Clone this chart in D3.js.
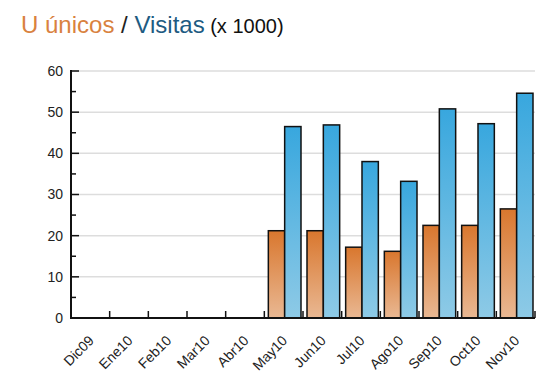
<!DOCTYPE html>
<html lang="es">
  <head>
    <meta charset="utf-8" />
    <title>U únicos / Visitas</title>
    <style>
      body {
        margin: 0;
        background: #fff;
        font-family: "Liberation Sans", Arial, sans-serif;
      }
      svg {
        display: block;
      }
      .grid line {
        stroke: #dddddd;
        stroke-width: 1.5px;
      }
      .tick-label {
        font-size: 14px;
        fill: #222;
      }
    </style>
  </head>
  <body>
    <svg width="556" height="387"></svg>

    <script src="https://d3js.org/d3.v7.min.js"></script>
    <script>
      // months shown on the x axis
      const months = [
        "Dic09", "Ene10", "Feb10", "Mar10", "Abr10", "May10",
        "Jun10", "Jul10", "Ago10", "Sep10", "Oct10", "Nov10"
      ];
      // unique users (x 1000), no data before May10
      const unicos = [null, null, null, null, null, 21.2, 21.2, 17.2, 16.2, 22.5, 22.5, 26.5];
      // visits (x 1000)
      const visitas = [null, null, null, null, null, 46.5, 46.9, 38.0, 33.2, 50.8, 47.2, 54.6];
      const yTicks = [0, 10, 20, 30, 40, 50, 60];
      const yMinorTicks = [5, 15, 25, 35, 45, 55];

      const margin = { top: 71, right: 21, bottom: 69, left: 71 };
      const width = 556;
      const height = 387;

      const svg = d3.select("svg");

      // title
      const title = svg.append("text").attr("x", 21).attr("y", 33);
      title.append("tspan").attr("fill", "#d9823f").style("font-size", "24px").text("U únicos");
      title.append("tspan").attr("fill", "#222").style("font-size", "24px").text(" / ");
      title.append("tspan").attr("fill", "#1e5b82").style("font-size", "24px").text("Visitas");
      title.append("tspan").attr("fill", "#111").style("font-size", "20px").text(" (x 1000)");

      const x = d3
        .scaleBand()
        .domain(months)
        .range([margin.left, width - margin.right])
        .padding(0);

      const bw = x.bandwidth();
      const xInner = d3
        .scaleBand()
        .domain(["unicos", "visitas"])
        .range([4, bw - 2])
        .padding(0);

      const y = d3
        .scaleLinear()
        .domain([0, 60])
        .range([height - margin.bottom, margin.top]);

      // gradients
      const defs = svg.append("defs");
      const gradOrange = defs
        .append("linearGradient")
        .attr("id", "gOrange")
        .attr("x1", 0).attr("y1", 0).attr("x2", 0).attr("y2", 1);
      gradOrange.append("stop").attr("offset", "0%").attr("stop-color", "#d9772e");
      gradOrange.append("stop").attr("offset", "100%").attr("stop-color", "#e9b893");

      const gradBlue = defs
        .append("linearGradient")
        .attr("id", "gBlue")
        .attr("x1", 0).attr("y1", 0).attr("x2", 0).attr("y2", 1);
      gradBlue.append("stop").attr("offset", "0%").attr("stop-color", "#38a7de");
      gradBlue.append("stop").attr("offset", "100%").attr("stop-color", "#8ecae6");

      // grid lines
      svg
        .append("g")
        .attr("class", "grid")
        .selectAll("line")
        .data(yTicks.filter((d) => d > 0))
        .join("line")
        .attr("x1", margin.left)
        .attr("x2", width - margin.right)
        .attr("y1", (d) => y(d))
        .attr("y2", (d) => y(d));

      // bars
      const rows = months.map((m, i) => ({ month: m, unicos: unicos[i], visitas: visitas[i] }));
      const groups = svg
        .append("g")
        .selectAll("g")
        .data(rows)
        .join("g")
        .attr("transform", (d) => `translate(${x(d.month)},0)`);

      groups
        .selectAll("rect")
        .data((d) =>
          ["unicos", "visitas"]
            .filter((k) => d[k] != null)
            .map((k) => ({ key: k, value: d[k] }))
        )
        .join("rect")
        .attr("x", (d) => xInner(d.key))
        .attr("width", xInner.bandwidth())
        .attr("y", (d) => y(d.value))
        .attr("height", (d) => y(0) - y(d.value))
        .attr("fill", (d) => (d.key === "unicos" ? "url(#gOrange)" : "url(#gBlue)"))
        .attr("stroke", "#111")
        .attr("stroke-width", 1.5);

      // y axis
      const yAxis = svg.append("g");
      yAxis
        .append("line")
        .attr("x1", margin.left)
        .attr("x2", margin.left)
        .attr("y1", y(60) - 1)
        .attr("y2", y(0))
        .attr("stroke", "#111")
        .attr("stroke-width", 2);
      yAxis
        .selectAll(".major")
        .data(yTicks)
        .join("line")
        .attr("x1", margin.left)
        .attr("x2", margin.left + 8)
        .attr("y1", (d) => y(d))
        .attr("y2", (d) => y(d))
        .attr("stroke", "#111")
        .attr("stroke-width", 1.5);
      yAxis
        .selectAll(".minor")
        .data(yMinorTicks)
        .join("line")
        .attr("x1", margin.left)
        .attr("x2", margin.left + 5)
        .attr("y1", (d) => y(d))
        .attr("y2", (d) => y(d))
        .attr("stroke", "#111")
        .attr("stroke-width", 1.5);
      yAxis
        .selectAll("text")
        .data(yTicks)
        .join("text")
        .attr("class", "tick-label")
        .attr("x", margin.left - 8)
        .attr("y", (d) => y(d))
        .attr("dy", "0.35em")
        .attr("text-anchor", "end")
        .text((d) => d);

      // x axis
      const xAxis = svg.append("g");
      xAxis
        .append("line")
        .attr("x1", margin.left - 1)
        .attr("x2", width - margin.right)
        .attr("y1", y(0))
        .attr("y2", y(0))
        .attr("stroke", "#111")
        .attr("stroke-width", 2);
      xAxis
        .selectAll(".xtick")
        .data(months.slice(1).concat(["end"]))
        .join("line")
        .attr("x1", (d, i) => x(months[0]) + (i + 1) * bw)
        .attr("x2", (d, i) => x(months[0]) + (i + 1) * bw)
        .attr("y1", y(0))
        .attr("y2", y(0) - 7)
        .attr("stroke", "#111")
        .attr("stroke-width", 1.5);
      xAxis
        .selectAll("text")
        .data(months)
        .join("text")
        .attr("class", "tick-label")
        .attr("text-anchor", "end")
        .attr(
          "transform",
          (d) => `translate(${x(d) + bw / 2 + 1},${y(0) + 20}) rotate(-45)`
        )
        .attr("dy", "0.35em")
        .text((d) => d);
    </script>
  </body>
</html>
